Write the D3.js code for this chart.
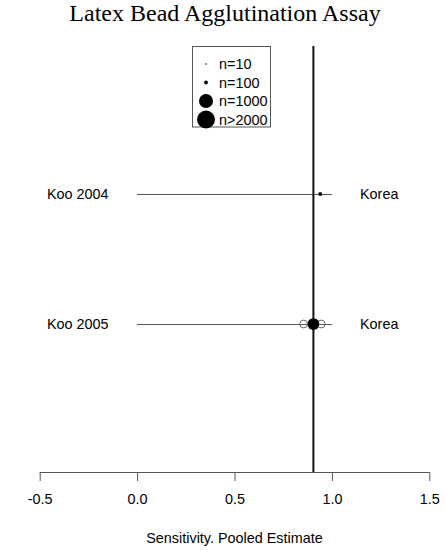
<!DOCTYPE html>
<html>
<head>
<meta charset="utf-8">
<script src="https://cdn.jsdelivr.net/npm/d3@7"></script>
<style>
    body { margin: 0; background: #fff; }
</style>
</head>
<body>
<script>
var studies = ["Koo 2004", "Koo 2005"];
var countries = ["Korea", "Korea"];
var estimates = [0.94, 0.905];
var lowerCI = [0.0, 0.0];
var upperCI = [1.0, 1.0];
var sampleSizes = [100, 800];
// open circles drawn around the second study's point
var openMarks = [[], [0.855, 0.945]];
var pooled = 0.905;
var xTicks = [-0.5, 0.0, 0.5, 1.0, 1.5];
var legendLabels = ["n=10", "n=100", "n=1000", "n>2000"];
var legendSizes = [10, 100, 1000, 2000];

function init() {
    var w = 446;
    var h = 550;

    var svg = d3.select("body")
        .append("svg")
        .attr("width", w)
        .attr("height", h);

    var x = d3.scaleLinear()
        .domain([-0.5, 1.5])
        .range([39.7, 429.3]);

    var y = d3.scalePoint()
        .domain(studies)
        .range([46, 472])
        .padding(1.138);

    var r = d3.scaleLinear()
        .domain([0, 10, 100, 1000, 2000])
        .range([0, 0.8, 1.9, 7, 9]);

    var sans = "'Liberation Sans', Arial, sans-serif";

    svg.append("text")
        .attr("x", 225)
        .attr("y", 21)
        .attr("text-anchor", "middle")
        .attr("font-family", "'Liberation Serif', 'Times New Roman', serif")
        .attr("font-size", 24)
        .text("Latex Bead Agglutination Assay");

    // x axis
    var axis = svg.append("g")
        .attr("transform", "translate(0,472)")
        .call(d3.axisBottom(x)
            .tickValues(xTicks)
            .tickFormat(d3.format(".1f"))
            .tickSize(9)
            .tickSizeOuter(0)
            .tickPadding(13));
    axis.select(".domain")
        .attr("stroke", "#555")
        .attr("d", "M" + x(-0.5) + ",0.5H" + x(1.5));
    axis.selectAll(".tick line")
        .attr("stroke", "#555");
    axis.selectAll(".tick text")
        .attr("font-family", sans)
        .attr("font-size", 14.4)
        .attr("fill", "#000")
        .text(function (d) { return d < 0 ? "-" + Math.abs(d).toFixed(1) : d.toFixed(1); });

    svg.append("text")
        .attr("x", x(0.5))
        .attr("y", 543)
        .attr("text-anchor", "middle")
        .attr("font-family", sans)
        .attr("font-size", 14.4)
        .text("Sensitivity. Pooled Estimate");

    var rows = studies.map(function (s, i) {
        return {
            study: s, country: countries[i], est: estimates[i],
            lo: lowerCI[i], hi: upperCI[i], n: sampleSizes[i], marks: openMarks[i]
        };
    });

    // confidence interval lines
    svg.selectAll("line.ci")
        .data(rows)
        .enter()
        .append("line")
        .attr("class", "ci")
        .attr("x1", function (d) { return x(d.lo); })
        .attr("x2", function (d) { return x(d.hi); })
        .attr("y1", function (d) { return y(d.study) + 0.5; })
        .attr("y2", function (d) { return y(d.study) + 0.5; })
        .attr("stroke", "#555")
        .attr("stroke-width", 1);

    // pooled estimate line
    svg.append("line")
        .attr("x1", x(pooled))
        .attr("x2", x(pooled))
        .attr("y1", 46)
        .attr("y2", 472)
        .attr("stroke", "#111")
        .attr("stroke-width", 2);

    rows.forEach(function (d) {
        svg.selectAll(null)
            .data(d.marks)
            .enter()
            .append("circle")
            .attr("cx", function (m) { return x(m); })
            .attr("cy", y(d.study))
            .attr("r", 3.9)
            .attr("fill", "none")
            .attr("stroke", "#666")
            .attr("stroke-width", 1);
    });

    svg.selectAll("circle.pt")
        .data(rows)
        .enter()
        .append("circle")
        .attr("class", "pt")
        .attr("cx", function (d) { return x(d.est); })
        .attr("cy", function (d) { return y(d.study); })
        .attr("r", function (d) { return r(d.n); })
        .attr("fill", "#000");

    svg.selectAll("text.study")
        .data(rows)
        .enter()
        .append("text")
        .attr("class", "study")
        .attr("x", 47)
        .attr("y", function (d) { return y(d.study); })
        .attr("dy", "0.35em")
        .attr("font-family", sans)
        .attr("font-size", 14.4)
        .text(function (d) { return d.study; });

    svg.selectAll("text.country")
        .data(rows)
        .enter()
        .append("text")
        .attr("class", "country")
        .attr("x", 360)
        .attr("y", function (d) { return y(d.study); })
        .attr("dy", "0.35em")
        .attr("font-family", sans)
        .attr("font-size", 14.4)
        .text(function (d) { return d.country; });

    // legend
    var legend = svg.append("g");
    legend.append("rect")
        .attr("x", 192.5)
        .attr("y", 46.5)
        .attr("width", 78)
        .attr("height", 80.5)
        .attr("fill", "#fff")
        .attr("stroke", "#555");

    var ly = d3.scalePoint()
        .domain(legendLabels)
        .range([64, 119.5]);

    legend.selectAll("circle")
        .data(legendLabels)
        .enter()
        .append("circle")
        .attr("cx", 206)
        .attr("cy", function (d) { return ly(d); })
        .attr("r", function (d, i) { return r(legendSizes[i]); })
        .attr("fill", "#000");

    legend.selectAll("text")
        .data(legendLabels)
        .enter()
        .append("text")
        .attr("x", 219)
        .attr("y", function (d) { return ly(d); })
        .attr("dy", "0.35em")
        .attr("font-family", sans)
        .attr("font-size", 14.4)
        .text(function (d) { return d; });
}

window.onload = init;
</script>
</body>
</html>
